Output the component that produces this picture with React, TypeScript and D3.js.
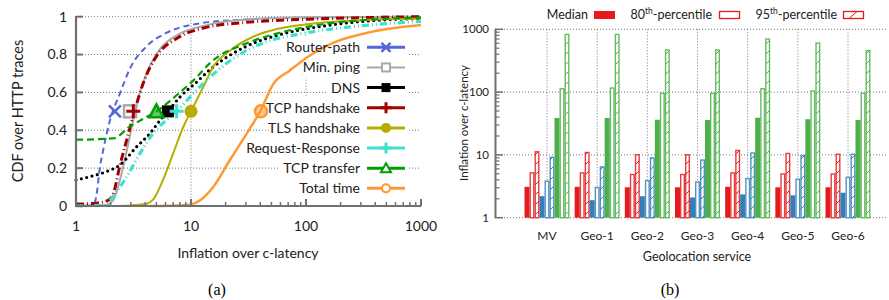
import React from "react";
import * as d3 from "d3";

// ---------- Panel (a): CDF data, [inflation, cdf] ----------
const routerPath: [number, number][] = [[1, 0], [1.41, 0.003], [1.5, 0.05], [1.62, 0.21], [1.73, 0.3], [1.97, 0.45], [2.41, 0.595], [2.95, 0.727], [4.1, 0.843], [6.1, 0.914], [12, 0.965], [30, 0.985], [100, 0.995], [1000, 1]];
const minPing: [number, number][] = [[1, 0], [1.8, 0.005], [2.1, 0.03], [2.58, 0.21], [2.85, 0.33], [3.37, 0.54], [4.1, 0.7], [5.4, 0.83], [8, 0.91], [13.7, 0.955], [30, 0.985], [100, 0.997], [1000, 1]];
const dns: [number, number][] = [[1, 0.137], [1.32, 0.155], [1.8, 0.18], [2.41, 0.217], [3.37, 0.313], [4.4, 0.384], [5.4, 0.454], [6.3, 0.5], [8, 0.575], [11.2, 0.655], [14.6, 0.72], [30.6, 0.845], [59, 0.905], [140, 0.95], [540, 0.985], [1000, 0.99]];
const tcpHandshake: [number, number][] = [[1, 0.01], [1.5, 0.015], [1.9, 0.03], [2.1, 0.06], [2.4, 0.21], [2.85, 0.38], [3.26, 0.51], [3.85, 0.65], [5.0, 0.79], [7.5, 0.885], [12.8, 0.94], [30, 0.97], [100, 0.986], [1000, 1]];
const tlsHandshake: [number, number][] = [[1.97, 0], [3, 0.003], [4.0, 0.01], [4.7, 0.035], [5.7, 0.137], [7.0, 0.278], [8.6, 0.42], [10, 0.5], [12.8, 0.63], [15.6, 0.736], [21.8, 0.82], [34.6, 0.894], [59, 0.938], [108, 0.962], [275, 0.98], [1000, 0.99]];
const requestResponse: [number, number][] = [[1, 0], [1.8, 0.005], [2.1, 0.05], [2.76, 0.155], [3.6, 0.278], [4.7, 0.384], [6.1, 0.454], [7.5, 0.5], [10.5, 0.595], [14.6, 0.68], [23.4, 0.78], [42, 0.86], [101, 0.915], [197, 0.94], [1000, 0.975]];
const tcpTransfer: [number, number][] = [[1, 0.35], [2.1, 0.357], [2.95, 0.42], [4.1, 0.47], [5, 0.5], [8, 0.6], [11.2, 0.68], [14.6, 0.755], [30.6, 0.86], [59, 0.915], [140, 0.96], [540, 0.99], [1000, 0.995]];
const totalTime: [number, number][] = [[4.4, 0], [8, 0.003], [10, 0.008], [12, 0.03], [15.6, 0.1], [21.8, 0.243], [30.6, 0.384], [40, 0.5], [52, 0.645], [72, 0.715], [108, 0.795], [172, 0.862], [336, 0.914], [1000, 0.956]];

const cdfNames = ["Router-path", "Min. ping", "DNS", "TCP handshake", "TLS handshake", "Request-Response", "TCP transfer", "Total time"];
const cdfMedians = [2.18, 2.95, 6.3, 3.15, 10, 7.5, 5.0, 40.6];
const xTicksA = [1, 10, 100, 1000];
const yTicksA = [0, 0.2, 0.4, 0.6, 0.8, 1];
const yTickLabelsA = ["0", "0.2", "0.4", "0.6", "0.8", "1"];

// ---------- Panel (b): bar data ----------
const categories = ["MV", "Geo-1", "Geo-2", "Geo-3", "Geo-4", "Geo-5", "Geo-6"];
const redMedian = [3.1, 3.1, 3.05, 3.05, 3.1, 3.05, 3.05];
const red80 = [5.3, 5.3, 5.0, 5.0, 5.3, 5.1, 5.1];
const red95 = [11.5, 11.2, 10.3, 10.3, 12.1, 10.8, 10.5];
const blueMedian = [2.2, 1.9, 2.2, 2.1, 2.35, 2.27, 2.5];
const blue80 = [3.9, 3.1, 4.0, 3.8, 4.3, 4.2, 4.5];
const blue95 = [9.4, 6.6, 9.2, 8.5, 11, 10, 10.5];
const greenMedian = [38.7, 38.7, 36.3, 36, 39, 37, 36];
const green80 = [116, 119, 98, 98, 116, 107, 98];
const green95 = [850, 850, 480, 480, 718, 620, 470];
const yTicksB = [1, 10, 100, 1000];
const legendB = ["Median", "80", "95"];

const FONT = "Lato, 'Open Sans', sans-serif";
const TXT = "#222";
const AX = "#707070";

const styles = [
  { color: "#5566d8", width: 2, dash: "6,4", marker: "x" },
  { color: "#aaaaaa", width: 2, dash: "", marker: "sq" },
  { color: "#000000", width: 3.2, dash: "0,5.5", marker: "fsq", cap: "round" },
  { color: "#a50000", width: 3, dash: "8,3,1,3", marker: "plus" },
  { color: "#b8ac00", width: 2, dash: "", marker: "fc" },
  { color: "#40e0d0", width: 3.2, dash: "7,3,1,3,1,3", marker: "plus" },
  { color: "#00a000", width: 2.2, dash: "7,4", marker: "tri" },
  { color: "#ff9933", width: 2.5, dash: "", marker: "oc" },
];
const cdfData = [routerPath, minPing, dns, tcpHandshake, tlsHandshake, requestResponse, tcpTransfer, totalTime];

function Marker({ kind, x, y, color, s }: { kind: string; x: number; y: number; color: string; s: number }) {
  switch (kind) {
    case "x":
      return <path d={`M${x - s},${y - s}L${x + s},${y + s}M${x - s},${y + s}L${x + s},${y - s}`} stroke={color} strokeWidth={2.5} />;
    case "sq":
      return <rect x={x - s} y={y - s} width={2 * s} height={2 * s} fill="white" fillOpacity={0.4} stroke={color} strokeWidth={2.5} />;
    case "fsq":
      return <rect x={x - s} y={y - s} width={2 * s} height={2 * s} fill={color} />;
    case "plus":
      return <path d={`M${x - s - 1},${y}L${x + s + 1},${y}M${x},${y - s - 1}L${x},${y + s + 1}`} stroke={color} strokeWidth={3} />;
    case "fc":
      return <circle cx={x} cy={y} r={s + 0.5} fill={color} />;
    case "tri":
      return <path d={`M${x},${y - s - 1}L${x + s + 1},${y + s}L${x - s - 1},${y + s}Z`} fill={color} fillOpacity={0.6} stroke={color} strokeWidth={2.5} />;
    case "oc":
      return <circle cx={x} cy={y} r={s} fill={color} fillOpacity={0.5} stroke={color} strokeWidth={2.5} />;
  }
  return null;
}

function PanelA() {
  const x = d3.scaleLog().domain([1, 1000]).range([76, 421]);
  const y = d3.scaleLinear().domain([0, 1]).range([206, 16.7]);
  const line = d3.line<[number, number]>().x((d) => x(d[0])).y((d) => y(d[1])).curve(d3.curveMonotoneX);
  const minor: number[] = [];
  for (let dec = 1; dec < 1000; dec *= 10) for (let k = 2; k <= 9; k++) minor.push(dec * k);
  const rowY = (i: number) => 47.3 + i * 20.15;
  const legendTextStart = [287, 306, 332, 268, 273, 250, 283, 299];
  return (
    <g>
      {yTicksA.slice(1).map((t) => (
        <line key={"gy" + t} x1={76} x2={421} y1={y(t)} y2={y(t)} stroke="#555" strokeWidth={0.8} strokeDasharray="1,2" />
      ))}
      {[10, 100].map((t) => (
        <line key={"gx" + t} x1={x(t)} x2={x(t)} y1={16.7} y2={206} stroke="#555" strokeWidth={0.8} strokeDasharray="1,2" />
      ))}
      {cdfNames.map((n, i) => (
        <rect key={"lb" + i} x={legendTextStart[i] - 4} y={rowY(i) - 10} width={412 - legendTextStart[i]} height={20.15} fill="white" />
      ))}
      {cdfData.map((d, i) => (
        <path key={"c" + i} d={line(d) || ""} fill="none" stroke={styles[i].color} strokeWidth={styles[i].width}
          strokeDasharray={styles[i].dash || undefined} strokeLinecap={(styles[i] as any).cap || "butt"} />
      ))}
      {cdfMedians.map((m, i) => (
        <Marker key={"m" + i} kind={styles[i].marker} x={x(m)} y={y(0.5)} color={styles[i].color} s={6} />
      ))}
      <line x1={76} x2={76} y1={16} y2={207} stroke={AX} strokeWidth={2.2} />
      <line x1={75} x2={421} y1={206} y2={206} stroke={AX} strokeWidth={2.2} />
      {yTicksA.map((t) => (
        <line key={"yt" + t} x1={76} x2={83} y1={y(t)} y2={y(t)} stroke={AX} strokeWidth={2} />
      ))}
      {xTicksA.map((t) => (
        <line key={"xt" + t} x1={x(t)} x2={x(t)} y1={206} y2={199} stroke={AX} strokeWidth={2} />
      ))}
      {minor.map((t) => (
        <line key={"xm" + t} x1={x(t)} x2={x(t)} y1={206} y2={202} stroke={AX} strokeWidth={1.5} />
      ))}
      {yTicksA.map((t, i) => (
        <text key={"yl" + t} x={67} y={y(t)} dy="0.35em" textAnchor="end" fontSize={14} fill={TXT} fontFamily={FONT}>{yTickLabelsA[i]}</text>
      ))}
      {xTicksA.map((t) => (
        <text key={"xl" + t} x={x(t)} y={231} textAnchor="middle" fontSize={14} fill={TXT} fontFamily={FONT}>{t}</text>
      ))}
      <text x={248} y={258} textAnchor="middle" fontSize={14} fill={TXT} fontFamily={FONT}>Inflation over c-latency</text>
      <text transform="translate(23,111) rotate(-90)" textAnchor="middle" fontSize={14.5} fill={TXT} fontFamily={FONT}>CDF over HTTP traces</text>
      <text x={217} y={295} textAnchor="middle" fontSize={16} fill="#000" fontFamily="'Liberation Serif', serif">(a)</text>
      {cdfNames.map((n, i) => (
        <g key={"lg" + i}>
          <text x={360} y={rowY(i)} dy="0.35em" textAnchor="end" fontSize={14} fill={TXT} fontFamily={FONT}>{n}</text>
          <line x1={367} x2={405} y1={rowY(i)} y2={rowY(i)} stroke={styles[i].color} strokeWidth={i === 1 ? 2 : 3} />
          {["x", "fsq", "plus", "fc"].includes(styles[i].marker) && (
            <Marker kind={styles[i].marker} x={386} y={rowY(i)} color={styles[i].color} s={4.5} />
          )}
          {styles[i].marker === "oc" && <circle cx={386} cy={rowY(i)} r={4} fill="white" stroke={styles[i].color} strokeWidth={2} />}
          {styles[i].marker === "tri" && <path d={`M386,${rowY(i) - 5}L391,${rowY(i) + 4}L381,${rowY(i) + 4}Z`} fill="white" stroke={styles[i].color} strokeWidth={2} />}
          {styles[i].marker === "sq" && <rect x={382} y={rowY(i) - 4} width={8} height={8} fill="white" stroke={styles[i].color} strokeWidth={2} />}
        </g>
      ))}
    </g>
  );
}

const RED = "#e41a1c";
const BLUE = "#377eb8";
const GREEN = "#4daf4a";

function PanelB() {
  const y = d3.scaleLog().domain([1, 1000]).range([217.7, 29.3]);
  const x = d3.scalePoint<string>().domain(categories).range([547, 848]);
  const barKeys = ["rm", "r8", "r9", "bm", "b8", "b9", "gm", "g8", "g9"];
  const inner = d3.scaleBand<string>().domain(barKeys).range([-22.5, 22.5]);
  const series = [
    { k: "rm", v: redMedian, c: RED, t: "f" },
    { k: "r8", v: red80, c: RED, t: "e" },
    { k: "r9", v: red95, c: RED, t: "h" },
    { k: "bm", v: blueMedian, c: BLUE, t: "f" },
    { k: "b8", v: blue80, c: BLUE, t: "e" },
    { k: "b9", v: blue95, c: BLUE, t: "h" },
    { k: "gm", v: greenMedian, c: GREEN, t: "f" },
    { k: "g8", v: green80, c: GREEN, t: "e" },
    { k: "g9", v: green95, c: GREEN, t: "h" },
  ];
  const minor: number[] = [];
  for (let dec = 1; dec < 1000; dec *= 10) for (let k = 2; k <= 9; k++) minor.push(dec * k);
  const bw = inner.bandwidth();
  const pid = (c: string) => "hatch" + c.slice(1);
  return (
    <g>
      <defs>
        {[RED, BLUE, GREEN].map((c) => (
          <pattern key={c} id={pid(c)} patternUnits="userSpaceOnUse" width={10} height={10}>
            <rect width={10} height={10} fill="white" />
            <path d="M0,10L10,0M-3,3L3,-3M7,13L13,7" stroke={c} strokeWidth={1} />
          </pattern>
        ))}
      </defs>
      {yTicksB.map((t) => (
        <line key={"gy" + t} x1={495} x2={887} y1={y(t)} y2={y(t)} stroke="#555" strokeWidth={0.8} strokeDasharray="1,2" />
      ))}
      {categories.map((c) => (
        <line key={"gx" + c} x1={x(c)!} x2={x(c)!} y1={29.3} y2={217.7} stroke="#555" strokeWidth={0.8} strokeDasharray="1,2" />
      ))}
      {series.map((s) =>
        categories.map((c, i) => {
          const bx = x(c)! + inner(s.k)!;
          const top = y(s.v[i]);
          const h = y(1) - top;
          if (s.t === "f") return <rect key={s.k + c} x={bx} y={top} width={bw} height={h} fill={s.c} />;
          return (
            <rect key={s.k + c} x={bx + 0.7} y={top + 0.7} width={bw - 1.4} height={h - 0.7}
              fill={s.t === "h" ? `url(#${pid(s.c)})` : "white"} stroke={s.c} strokeOpacity={0.85} strokeWidth={1.4} />
          );
        })
      )}
      <line x1={495.5} x2={495.5} y1={29} y2={218} stroke={AX} strokeWidth={2} />
      {yTicksB.map((t) => (
        <line key={"yt" + t} x1={495} x2={503} y1={y(t)} y2={y(t)} stroke={AX} strokeWidth={1.5} />
      ))}
      {minor.map((t) => (
        <line key={"ym" + t} x1={495} x2={499.5} y1={y(t)} y2={y(t)} stroke={AX} strokeWidth={1.2} />
      ))}
      {yTicksB.map((t) => (
        <text key={"yl" + t} x={489} y={y(t)} dy="0.35em" textAnchor="end" fontSize={11.5} fill={TXT} fontFamily={FONT}>{t}</text>
      ))}
      {categories.map((c) => (
        <text key={"xl" + c} x={x(c)!} y={240} textAnchor="middle" fontSize={12} fill={TXT} fontFamily={FONT}>{c}</text>
      ))}
      <text x={697} y={261} textAnchor="middle" fontSize={12.5} fill={TXT} fontFamily={FONT}>Geolocation service</text>
      <text transform="translate(468,123) rotate(-90)" textAnchor="middle" fontSize={11.5} fill={TXT} fontFamily={FONT}>Inflation over c-latency</text>
      <text x={670} y={295} textAnchor="middle" fontSize={16} fill="#000" fontFamily="'Liberation Serif', serif">(b)</text>
      <g fontFamily={FONT} fontSize={12.5} fill={TXT}>
        <text x={588} y={15} dy="0.35em" textAnchor="end">{legendB[0]}</text>
        <rect x={594} y={11} width={21} height={8} fill={RED} />
        <text x={712} y={15} dy="0.35em" textAnchor="end">{legendB[1]}<tspan dy="-5" fontSize={8.5}>th</tspan><tspan dy="5">-percentile</tspan></text>
        <rect x={719.5} y={11.5} width={20} height={7} fill="white" stroke={RED} strokeWidth={1.3} />
        <text x={837} y={15} dy="0.35em" textAnchor="end">{legendB[2]}<tspan dy="-5" fontSize={8.5}>th</tspan><tspan dy="5">-percentile</tspan></text>
        <rect x={843.5} y={11.5} width={20} height={7} fill="white" stroke={RED} strokeWidth={1.3} />
        <line x1={849} y1={18.5} x2={857} y2={11.5} stroke={RED} strokeWidth={1} />
      </g>
    </g>
  );
}

export default function App() {
  return (
    <svg width={889} height={300} style={{ display: "block", position: "absolute", left: 0, top: 0 }}>
      <rect width={889} height={300} fill="white" />
      <PanelA />
      <PanelB />
    </svg>
  );
}
